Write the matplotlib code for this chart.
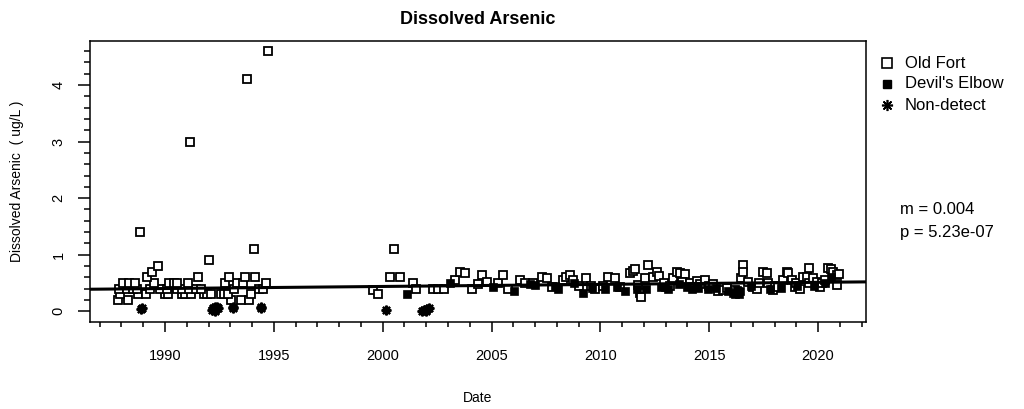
import matplotlib
matplotlib.use("Agg")
import matplotlib.pyplot as plt
from matplotlib.lines import Line2D
import numpy as np

plt.rcParams['font.family'] = ['Liberation Sans', 'DejaVu Sans']

# Old Fort (open squares)
of_year = [1987.85, 1988.28, 1993.05, 1993.49, 1993.84,
           1987.93, 1988.77, 1989.13, 1990.00, 1990.15, 1990.77, 1990.92, 1991.21, 1991.80, 1991.94,
           1992.10, 1992.56, 1992.71, 1992.89, 1993.95,
           1987.90, 1988.24, 1988.54, 1988.70, 1989.31, 1989.77, 1990.08, 1990.57, 1990.77, 1991.10,
           1991.42, 1991.64, 1993.17, 1994.33, 1994.52,
           1988.08, 1988.36, 1988.62, 1989.50, 1990.18, 1990.41, 1990.57, 1991.04, 1992.74, 1993.29,
           1993.60, 1994.63,
           1989.19, 1991.53, 1992.95, 1993.69, 1994.12,
           1989.42, 1989.68, 1992.02, 1994.07, 1988.87, 1991.15, 1993.77, 1994.72,
           1999.54, 1999.77, 2000.34, 2000.53, 2000.80, 2001.38, 2001.52, 2002.33, 2002.56, 2002.83,
           2003.32, 2003.55, 2003.78, 2004.09, 2004.39, 2004.55, 2004.78, 2005.31, 2005.51, 2005.77,
           2006.31, 2006.54, 2006.90, 2007.30, 2007.53, 2007.76, 2008.30, 2008.44, 2008.60, 2008.75,
           2009.00, 2009.33, 2009.55, 2009.75, 2010.10, 2010.37, 2010.67, 2010.90, 2011.36, 2011.51,
           2011.59, 2011.74, 2011.82, 2011.85, 2012.20,
           2012.05, 2012.43, 2012.58, 2012.70, 2012.90, 2013.20, 2013.35, 2013.50, 2013.66, 2013.89,
           2013.73, 2014.10, 2014.42, 2014.57, 2014.80, 2015.00, 2015.18, 2015.41, 2015.64, 2015.80,
           2016.20, 2016.48, 2016.57, 2016.55, 2016.79, 2017.02, 2017.18, 2017.30, 2017.45, 2017.64,
           2017.70, 2017.94, 2018.00, 2018.17, 2018.37, 2018.55, 2018.63, 2018.78, 2018.94, 2019.00,
           2019.17, 2019.32, 2019.47, 2019.59, 2019.60, 2019.78, 2019.93, 2020.08, 2020.20, 2020.30,
           2020.47, 2020.57, 2020.70, 2020.85, 2020.97, 2020.88]
of_val = [0.2, 0.2, 0.2, 0.2, 0.2,
          0.3, 0.3, 0.3, 0.3, 0.3, 0.3, 0.3, 0.3, 0.3, 0.3,
          0.3, 0.3, 0.3, 0.3, 0.3,
          0.4, 0.4, 0.4, 0.4, 0.4, 0.4, 0.4, 0.4, 0.4, 0.4,
          0.4, 0.4, 0.4, 0.4, 0.4,
          0.5, 0.5, 0.5, 0.5, 0.5, 0.5, 0.5, 0.5, 0.5, 0.5,
          0.5, 0.5,
          0.6, 0.6, 0.6, 0.6, 0.6,
          0.7, 0.8, 0.9, 1.1, 1.4, 3.0, 4.1, 4.6,
          0.37, 0.3, 0.6, 1.1, 0.6, 0.5, 0.4, 0.4, 0.4, 0.4,
          0.56, 0.70, 0.68, 0.39, 0.49, 0.64, 0.52, 0.50, 0.64, 0.39,
          0.55, 0.50, 0.50, 0.60, 0.58, 0.43, 0.55, 0.60, 0.64, 0.55,
          0.45, 0.58, 0.45, 0.40, 0.45, 0.60, 0.58, 0.43, 0.67, 0.71,
          0.74, 0.46, 0.32, 0.25, 0.82,
          0.58, 0.61, 0.70, 0.62, 0.50, 0.45, 0.58, 0.70, 0.67, 0.66,
          0.52, 0.50, 0.54, 0.48, 0.55, 0.45, 0.49, 0.35, 0.37, 0.42,
          0.38, 0.58, 0.82, 0.70, 0.52, 0.43, 0.39, 0.50, 0.70, 0.68,
          0.50, 0.37, 0.45, 0.43, 0.55, 0.70, 0.68, 0.55, 0.43, 0.50,
          0.39, 0.60, 0.61, 0.77, 0.50, 0.58, 0.52, 0.43, 0.50, 0.55,
          0.77, 0.74, 0.70, 0.64, 0.66, 0.46]

# Devil's Elbow (filled squares)
de_year = [2001.10, 2003.09, 2005.08, 2006.05, 2006.77, 2007.00, 2007.90, 2008.07, 2008.80, 2009.20,
           2009.60, 2010.20, 2010.75, 2011.13, 2011.70, 2012.10, 2012.77, 2012.97, 2013.12, 2013.60,
           2013.96, 2014.19, 2014.50, 2014.95, 2015.30, 2015.87, 2016.10, 2016.26, 2016.41, 2016.90,
           2017.79, 2018.30, 2019.05, 2019.80, 2020.30, 2020.60, 2016.20, 2016.35]
de_val = [0.30, 0.50, 0.43, 0.35, 0.49, 0.46, 0.45, 0.40, 0.50, 0.33,
          0.42, 0.40, 0.43, 0.35, 0.40, 0.40, 0.43, 0.43, 0.39, 0.48,
          0.43, 0.40, 0.42, 0.40, 0.42, 0.35, 0.33, 0.37, 0.35, 0.45,
          0.40, 0.42, 0.45, 0.45, 0.50, 0.60, 0.30, 0.30]

# Non-detects
nd_year = [1988.96, 1988.90, 1992.15, 1992.22, 1992.28, 1992.32, 1992.38, 1992.44, 1992.30, 1993.11,
           1993.13, 1994.40, 1994.42, 2000.14, 2001.82, 2001.90, 2001.98, 2002.05, 2002.12]
nd_val = [0.05, 0.04, 0.03, 0.05, 0.07, 0.04, 0.08, 0.05, 0.01, 0.05,
          0.08, 0.06, 0.08, 0.03, 0.00, 0.02, 0.01, 0.04, 0.05]

# Sen slope trend line
trend_slope = 0.00365
trend_at_2000 = 0.439

fig = plt.figure(figsize=(10.24, 4.09), dpi=100)
ax = fig.add_axes([90 / 1024, 1 - 321.7 / 409, 776 / 1024, 281 / 409])

ax.plot(of_year, of_val, linestyle='none', marker='s', ms=6, mfc='white', mec='black', mew=1.3)
ax.plot(de_year, de_val, linestyle='none', marker='s', ms=5.2, mfc='black', mec='black', mew=0.5)
ax.plot(nd_year, nd_val, linestyle='none', marker=(8, 2, 0), ms=7, mec='black', mew=1.6)
ax.axline((2000, trend_at_2000), slope=trend_slope, color='black', lw=2.2)

ax.set_xlim(1986.555, 2022.2)
ax.set_ylim(-0.184, 4.784)

ax.set_xticks(np.arange(1990, 2021, 5))
ax.set_xticks(np.arange(1987, 2023, 1), minor=True)
ax.set_yticks(np.arange(0, 5, 1))
ax.set_yticks(np.arange(0, 4.7, 0.2), minor=True)
ax.tick_params(axis='x', which='major', length=7.5, width=1.1, pad=12, labelsize=10.5)
ax.tick_params(axis='x', which='minor', length=3.5, width=1.1)
ax.tick_params(axis='y', which='major', length=8.5, width=1.1, pad=9, labelsize=10.5, labelrotation=90)
ax.tick_params(axis='y', which='minor', length=4.5, width=1.1)
for lab in ax.get_yticklabels():
    lab.set_va('center')
for s in ax.spines.values():
    s.set_linewidth(1.1)

fig.text(478 / 1024, 1 - 19 / 409, 'Dissolved Arsenic', ha='center', va='center',
         fontsize=13, fontweight='bold')
fig.text(478 / 1024, 1 - 398 / 409, 'Date', ha='center', va='center', fontsize=10)
fig.text(17 / 1024, 1 - 181 / 409, 'Dissolved Arsenic  ( ug/L )', ha='center', va='center',
         rotation=90, fontsize=10)

# legend drawn in figure space
leg_items = [('Old Fort', dict(marker='s', ms=6.5, mfc='white', mec='black', mew=1.2)),
             ("Devil's Elbow", dict(marker='s', ms=5.8, mfc='black', mec='black')),
             ('Non-detect', dict(marker=(8, 2, 0), ms=8, mec='black', mew=1.2))]
for i, (name, style) in enumerate(leg_items):
    yy = 1 - (63 + 21 * i) / 409
    fig.add_artist(Line2D([887 / 1024], [yy], transform=fig.transFigure, linestyle='none',
                          color='black', **style))
    fig.text(905 / 1024, yy, name, ha='left', va='center', fontsize=12)

fig.text(900 / 1024, 1 - 210 / 409, 'm = 0.004', ha='left', va='center', fontsize=12)
fig.text(900 / 1024, 1 - 233 / 409, 'p = 5.23e-07', ha='left', va='center', fontsize=12)

fig.savefig('out.png', dpi=100)
